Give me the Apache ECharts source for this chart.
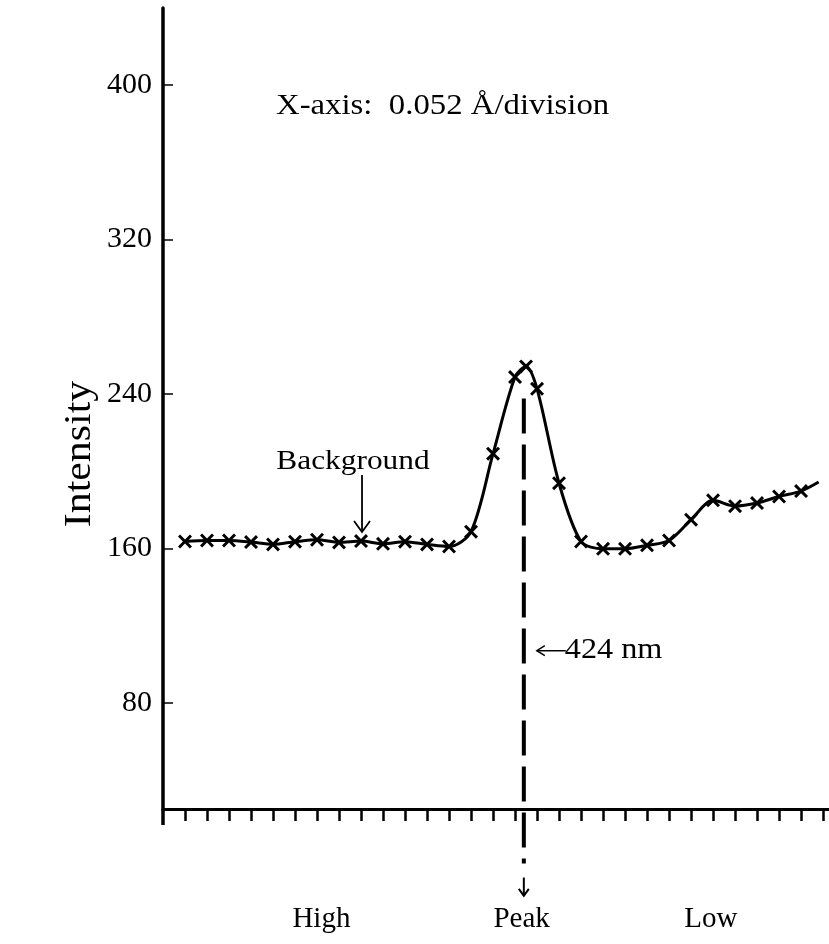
<!DOCTYPE html>
<html>
<head>
<meta charset="utf-8">
<script src="https://cdn.jsdelivr.net/npm/echarts@6/dist/echarts.min.js"></script>
<style>
html,body{margin:0;padding:0;background:#fff;}
#chart{width:829px;height:944px;}
</style>
</head>
<body>
<div id="chart"></div>
<script>
// x position in divisions (0.052 Å per division), intensity
const xDiv = [1, 2, 3, 4, 5, 6, 7, 8, 9, 10, 11, 12, 13, 14, 15, 16, 16.5, 17, 18, 19, 20, 21, 22, 23, 24, 25, 26, 27, 28, 29, 29.8];
const intensity = [163.6, 164.1, 164.1, 163.3, 162.1, 163.5, 164.5, 163.1, 163.8, 162.4, 163.5, 162.1, 161.0, 168.7, 209.1, 248.8, 254.3, 242.7, 193.8, 163.6, 159.8, 159.8, 161.6, 164.1, 174.9, 184.9, 181.9, 183.5, 186.9, 189.7, 194.4];
const yTicks = [80, 160, 240, 320, 400];
const xTicks = [1, 2, 3, 4, 5, 6, 7, 8, 9, 10, 11, 12, 13, 14, 15, 16, 17, 18, 19, 20, 21, 22, 23, 24, 25, 26, 27, 28, 29, 30];
const xLabelNames = ['High', 'Peak', 'Low'];
const xLabelPos = [7.2, 16.3, 24.9];
const peakX = 16.4;
const peakLabel = '424 nm';
const backgroundX = 9;

const FONT = '"Liberation Serif", "Times New Roman", serif';
const chart = echarts.init(document.getElementById('chart'), null, {renderer: 'canvas'});

const lineData = xDiv.map((x, i) => {
  const item = {value: [x, intensity[i]]};
  if (i === xDiv.length - 1) item.symbol = 'none';
  return item;
});

const xSymbol = 'path://M0,1.5L1.5,0L5,3.5L8.5,0L10,1.5L6.5,5L10,8.5L8.5,10L5,6.5L1.5,10L0,8.5L3.5,5Z';

chart.setOption({
  backgroundColor: '#ffffff',
  animation: false,
  grid: {left: 163, top: 8, width: 666, height: 801, containLabel: false},
  xAxis: {
    type: 'value', min: 0, max: 30.27,
    axisLine: {show: true, lineStyle: {color: '#000', width: 3}},
    axisTick: {show: true, inside: false, length: 12, lineStyle: {color: '#000', width: 2.5}, customValues: xTicks},
    axisLabel: {
      show: true, customValues: xLabelPos, margin: 96,
      fontFamily: FONT, fontSize: 29, color: '#000',
      formatter: function (v) {
        for (let i = 0; i < xLabelPos.length; i++) if (Math.abs(xLabelPos[i] - v) < 1e-6) return xLabelNames[i];
        return '';
      }
    },
    splitLine: {show: false}
  },
  yAxis: {
    type: 'value', min: 25, max: 440,
    axisLine: {show: true, lineStyle: {color: '#000', width: 3.5}},
    axisTick: {show: true, inside: true, length: 10, lineStyle: {color: '#000', width: 1.5}, customValues: yTicks},
    axisLabel: {show: true, customValues: yTicks, margin: 11, fontFamily: FONT, fontSize: 30, color: '#000'},
    splitLine: {show: false}
  },
  series: [{
    type: 'line',
    data: lineData,
    smooth: 0.3,
    symbol: xSymbol,
    symbolSize: 14,
    symbolKeepAspect: true,
    showAllSymbol: true,
    lineStyle: {color: '#000', width: 3},
    itemStyle: {color: '#000'},
    clip: false,
    z: 3
  }]
});

function px(x, y) { return chart.convertToPixel({gridIndex: 0}, [x, y]); }

const pTop = px(peakX, 237.7);
const pBot = px(peakX, -3.2);
const pArrow = px(peakX, -10.5);
const pArrowEnd = px(peakX, -20);
const pLbl = px(peakX, 107);
const axisBottom = px(0, 25);
const bgTop = px(backgroundX, 198);
const bgEnd = px(backgroundX, 168.5);

chart.setOption({
  graphic: [
    {type: 'line', shape: {x1: axisBottom[0], y1: axisBottom[1], x2: axisBottom[0], y2: axisBottom[1] + 16}, style: {stroke: '#000', lineWidth: 3.5}, z: 10},
    {type: 'line', shape: {x1: pTop[0], y1: pTop[1], x2: pBot[0], y2: pBot[1]}, style: {stroke: '#000', lineWidth: 4, lineDash: [35, 11]}, z: 10},
    {type: 'line', shape: {x1: pArrow[0], y1: pArrow[1], x2: pArrowEnd[0], y2: pArrowEnd[1]}, style: {stroke: '#000', lineWidth: 2}, z: 10},
    {type: 'polyline', shape: {points: [[pArrowEnd[0] - 5, pArrowEnd[1] - 7], [pArrowEnd[0], pArrowEnd[1]], [pArrowEnd[0] + 5, pArrowEnd[1] - 7]]}, style: {stroke: '#000', lineWidth: 2, fill: null}, z: 10},
    {type: 'line', shape: {x1: pLbl[0] + 13, y1: pLbl[1], x2: pLbl[0] + 42, y2: pLbl[1]}, style: {stroke: '#000', lineWidth: 1.5}, z: 10},
    {type: 'polyline', shape: {points: [[pLbl[0] + 21, pLbl[1] - 5], [pLbl[0] + 13, pLbl[1]], [pLbl[0] + 21, pLbl[1] + 5]]}, style: {stroke: '#000', lineWidth: 1.5, fill: null}, z: 10},
    {type: 'text', x: pLbl[0] + 41, y: pLbl[1], scaleX: 1.11, style: {text: peakLabel, fontFamily: FONT, fontSize: 29, fill: '#000', textAlign: 'left', textVerticalAlign: 'middle'}, z: 10},
    {type: 'text', x: 353, y: 462, scaleX: 1.12, style: {text: 'Background', fontFamily: FONT, fontSize: 28, fill: '#000', textAlign: 'center', textVerticalAlign: 'middle'}, z: 10},
    {type: 'line', shape: {x1: bgTop[0] + 1, y1: bgTop[1], x2: bgEnd[0] + 1, y2: bgEnd[1]}, style: {stroke: '#000', lineWidth: 1.8}, z: 10},
    {type: 'polyline', shape: {points: [[bgEnd[0] - 7, bgEnd[1] - 11], [bgEnd[0] + 1, bgEnd[1]], [bgEnd[0] + 9, bgEnd[1] - 11]]}, style: {stroke: '#000', lineWidth: 1.8, fill: null}, z: 10},
    {type: 'text', x: 276, y: 106, scaleX: 1.13, style: {text: 'X-axis:  0.052 Å/division', fontFamily: FONT, fontSize: 29, fill: '#000', textAlign: 'left', textVerticalAlign: 'middle'}, z: 10},
    {type: 'text', x: 80, y: 454, rotation: Math.PI / 2, scaleX: 1.1, style: {text: 'Intensity', fontFamily: FONT, fontSize: 38, fill: '#000', textAlign: 'center', textVerticalAlign: 'middle'}, z: 10}
  ]
});
</script>
</body>
</html>
